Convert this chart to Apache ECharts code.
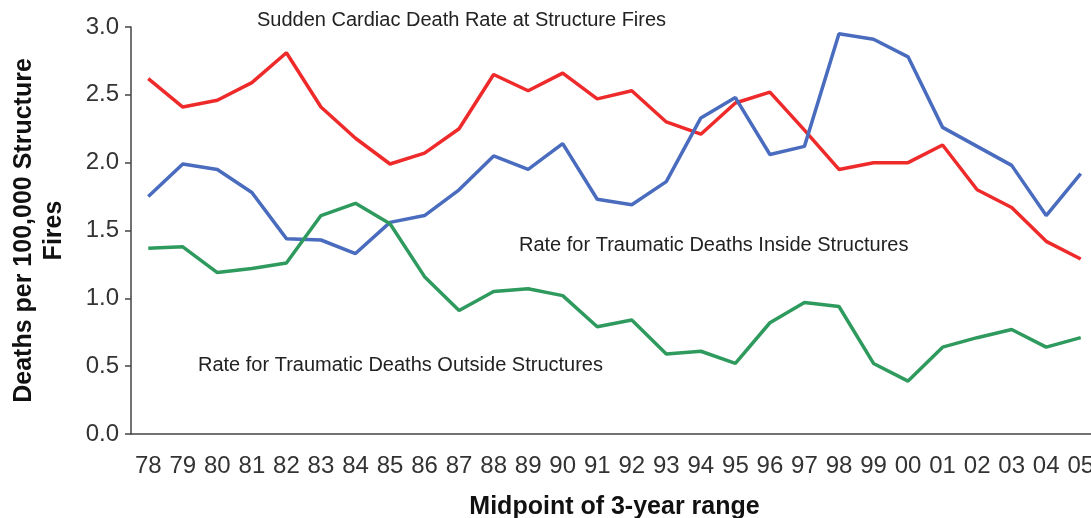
<!DOCTYPE html>
<html>
<head>
<meta charset="utf-8">
<script src="https://cdn.jsdelivr.net/npm/echarts@6/dist/echarts.min.js"></script>
<style>
  html, body { margin: 0; padding: 0; background: #fff; }
  #chart { width: 1091px; height: 518px; }
</style>
</head>
<body>
<div id="chart"></div>
<script>
// midpoint of 3-year range
const years = ['78', '79', '80', '81', '82', '83', '84', '85', '86', '87', '88', '89', '90', '91',
  '92', '93', '94', '95', '96', '97', '98', '99', '00', '01', '02', '03', '04', '05'];

const cardiac = [2.62, 2.41, 2.46, 2.59, 2.81, 2.41, 2.18, 1.99, 2.07, 2.25, 2.65, 2.53, 2.66, 2.47,
  2.53, 2.30, 2.21, 2.44, 2.52, 2.24, 1.95, 2.00, 2.00, 2.13, 1.80, 1.67, 1.42, 1.29];

const inside = [1.75, 1.99, 1.95, 1.78, 1.44, 1.43, 1.33, 1.56, 1.61, 1.80, 2.05, 1.95, 2.14, 1.73,
  1.69, 1.86, 2.33, 2.48, 2.06, 2.12, 2.95, 2.91, 2.78, 2.26, 2.12, 1.98, 1.61, 1.92];

const outside = [1.37, 1.38, 1.19, 1.22, 1.26, 1.61, 1.70, 1.55, 1.16, 0.91, 1.05, 1.07, 1.02, 0.79,
  0.84, 0.59, 0.61, 0.52, 0.82, 0.97, 0.94, 0.52, 0.39, 0.64, 0.71, 0.77, 0.64, 0.71];

const chart = echarts.init(document.getElementById('chart'));

const font = 'Liberation Sans, Arial, sans-serif';
const axisColor = '#444';

const lineSeries = (name, data, color) => ({
  name: name,
  type: 'line',
  data: data,
  symbol: 'none',
  animation: false,
  lineStyle: { color: color, width: 3.5 },
  itemStyle: { color: color }
});

chart.setOption({
  backgroundColor: '#fff',
  grid: { left: 131, right: -7, top: 27, bottom: 84, outerBoundsMode: 'none', containLabel: false },
  xAxis: {
    type: 'category',
    data: years,
    boundaryGap: true,
    axisLine: { lineStyle: { color: axisColor, width: 1.5 } },
    axisTick: { length: 6, lineStyle: { color: axisColor, width: 1.5 } },
    axisLabel: { color: '#333', fontFamily: font, fontSize: 24, margin: 20, interval: 0 },
    name: 'Midpoint of 3-year range',
    nameLocation: 'middle',
    nameGap: 61,
    nameTextStyle: { color: '#111', fontFamily: font, fontSize: 25, fontWeight: 'bold' }
  },
  yAxis: {
    type: 'value',
    min: 0,
    max: 3,
    interval: 0.5,
    splitLine: { show: false },
    axisLine: { show: true, lineStyle: { color: axisColor, width: 1.5 } },
    axisTick: { show: true, length: 6, lineStyle: { color: axisColor, width: 1.5 } },
    axisLabel: {
      color: '#333', fontFamily: font, fontSize: 24, margin: 12,
      formatter: v => v.toFixed(1)
    },
    name: 'Deaths per 100,000 Structure\nFires',
    nameLocation: 'middle',
    nameGap: 62,
    nameTextStyle: { color: '#111', fontFamily: font, fontSize: 25, fontWeight: 'bold', lineHeight: 30 }
  },
  graphic: [
    { type: 'text', left: 257, top: 10, style: { text: 'Sudden Cardiac Death Rate at Structure Fires', fill: '#222', font: '20px ' + font } },
    { type: 'text', left: 519, top: 235, style: { text: 'Rate for Traumatic Deaths Inside Structures', fill: '#222', font: '20px ' + font } },
    { type: 'text', left: 198, top: 355, style: { text: 'Rate for Traumatic Deaths Outside Structures', fill: '#222', font: '20px ' + font } }
  ],
  series: [
    lineSeries('Sudden Cardiac Death Rate', cardiac, '#ee2a2a'),
    lineSeries('Traumatic Inside', inside, '#4a6cbf'),
    lineSeries('Traumatic Outside', outside, '#2f9a5e')
  ]
});
</script>
</body>
</html>
